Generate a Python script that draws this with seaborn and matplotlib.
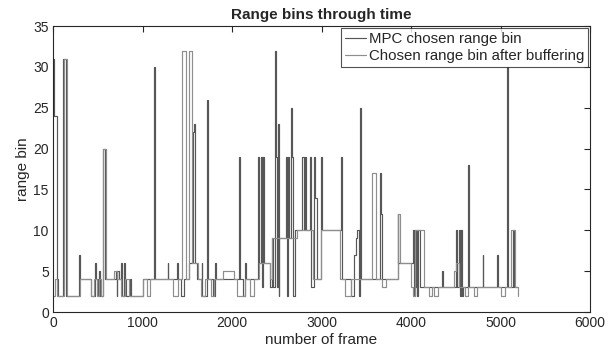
import pandas as pd
import seaborn as sns
import matplotlib.pyplot as plt

# change points (frame, range bin)
mpc_frames = [0, 15, 45, 60, 110, 150, 295, 305, 420, 470, 485, 500, 510, 525, 555, 585,
              700, 710, 720, 740, 760, 770, 790, 800, 815, 860, 870, 1000, 1130, 1140,
              1280, 1290, 1390, 1400, 1430, 1460, 1520, 1560, 1575, 1585, 1610, 1660,
              1670, 1720, 1730, 1790, 1810, 1820, 2080, 2090, 2120, 2150, 2160, 2290,
              2300, 2320, 2330, 2345, 2355, 2420, 2450, 2460, 2480, 2490, 2500, 2510,
              2520, 2530, 2600, 2610, 2630, 2640, 2660, 2670, 2680, 2700, 2780, 2800,
              2815, 2830, 2870, 2880, 2920, 2930, 2950, 2990, 3010, 3220, 3230, 3330,
              3360, 3380, 3400, 3420, 3430, 3440, 3650, 3665, 3680, 3850, 3860, 4020,
              4030, 4040, 4050, 4060, 4070, 4080, 4100, 4350, 4360, 4500, 4510, 4540,
              4550, 4560, 4570, 4580, 4640, 4650, 4800, 4810, 4960, 4970, 5070, 5080,
              5140, 5150, 5190]
mpc_bins = [31, 24, 4, 2, 31, 2, 7, 4, 2, 6, 4, 2, 5, 2, 20, 4,
            5, 2, 5, 4, 6, 2, 6, 4, 2, 4, 2, 4, 30, 4,
            6, 4, 6, 4, 2, 4, 6, 22, 23, 6, 4, 6,
            2, 26, 4, 2, 6, 4, 19, 4, 2, 6, 4, 19,
            6, 19, 3, 19, 6, 3, 9, 3, 32, 19, 3, 23,
            2, 9, 19, 2, 19, 9, 25, 19, 2, 10, 19, 10,
            19, 10, 19, 3, 19, 14, 4, 19, 10, 19, 4, 2,
            7, 9, 10, 2, 25, 4, 17, 12, 4, 12, 6, 10,
            2, 10, 3, 10, 2, 10, 3, 5, 3, 10, 3, 10,
            2, 10, 2, 3, 18, 3, 7, 3, 7, 3, 30, 3,
            10, 3, 3]

buf_frames = [0, 20, 45, 120, 155, 300, 420, 460, 490, 510, 540, 560, 590, 680, 720,
              760, 800, 850, 1000, 1050, 1080, 1340, 1400, 1440, 1490, 1515, 1555, 1620,
              1650, 1700, 1760, 1800, 1900, 2020, 2060, 2150, 2200, 2250, 2300, 2430,
              2450, 2730, 2910, 2990, 3210, 3260, 3330, 3560, 3610, 3680, 3720, 3850,
              3875, 4000, 4020, 4050, 4140, 4200, 4230, 4260, 4300, 4480, 4500, 4540,
              4600, 4640, 4700, 4740, 5000, 5050, 5120, 5160, 5190]
buf_bins = [2, 4, 2, 31, 2, 4, 2, 4, 2, 4, 2, 20, 4, 5, 4,
            2, 4, 2, 4, 2, 4, 2, 4, 32, 4, 32, 6, 4,
            2, 4, 2, 4, 5, 4, 2, 4, 2, 4, 6, 4,
            9, 10, 4, 10, 4, 2, 4, 17, 4, 3, 4, 12,
            6, 3, 2, 10, 3, 2, 3, 2, 3, 5, 6, 3,
            2, 3, 2, 3, 2, 3, 10, 3, 2]

labels = ['MPC chosen range bin', 'Chosen range bin after buffering']
colors = ['#575757', '#8e8e8e']

df = pd.concat([
    pd.DataFrame({'frame': mpc_frames, 'bin': mpc_bins, 'serie': labels[0]}),
    pd.DataFrame({'frame': buf_frames, 'bin': buf_bins, 'serie': labels[1]}),
])

sns.set_style('white')
plt.rcParams['font.family'] = ['Liberation Sans', 'DejaVu Sans']

fig = plt.figure(figsize=(6.11, 3.56), dpi=100)
ax = fig.add_axes([53/611, 1 - 312/356, (590-53)/611, (312-26)/356])

sns.lineplot(data=df, x='frame', y='bin', hue='serie', palette=colors,
             drawstyle='steps-post', linewidth=0.85, estimator=None, ax=ax)

ax.set_xlim(0, 6000)
ax.set_ylim(0, 35)
ax.set_xticks(range(0, 6001, 1000))
ax.set_yticks(range(0, 36, 5))
ax.tick_params(direction='in', top=True, right=True, length=4, width=0.8,
               labelsize=10, colors='#262626', pad=3)
for s in ax.spines.values():
    s.set_color('#262626')
    s.set_linewidth(0.8)

ax.set_xlabel('number of frame', fontsize=11, color='#262626', labelpad=2)
ax.set_ylabel('range bin', fontsize=11, color='#262626', labelpad=2)
ax.set_title('Range bins through time', fontsize=11, fontweight='bold', pad=5)

handles, _ = ax.get_legend_handles_labels()
leg = ax.legend(handles, labels, loc='upper right', fontsize=10.8, frameon=True,
                fancybox=False, edgecolor='#262626', handlelength=1.4,
                handletextpad=0.2, borderpad=0.25, labelspacing=0.2,
                borderaxespad=0.15)
leg.get_frame().set_linewidth(0.8)

fig.savefig('out.png', dpi=100)
